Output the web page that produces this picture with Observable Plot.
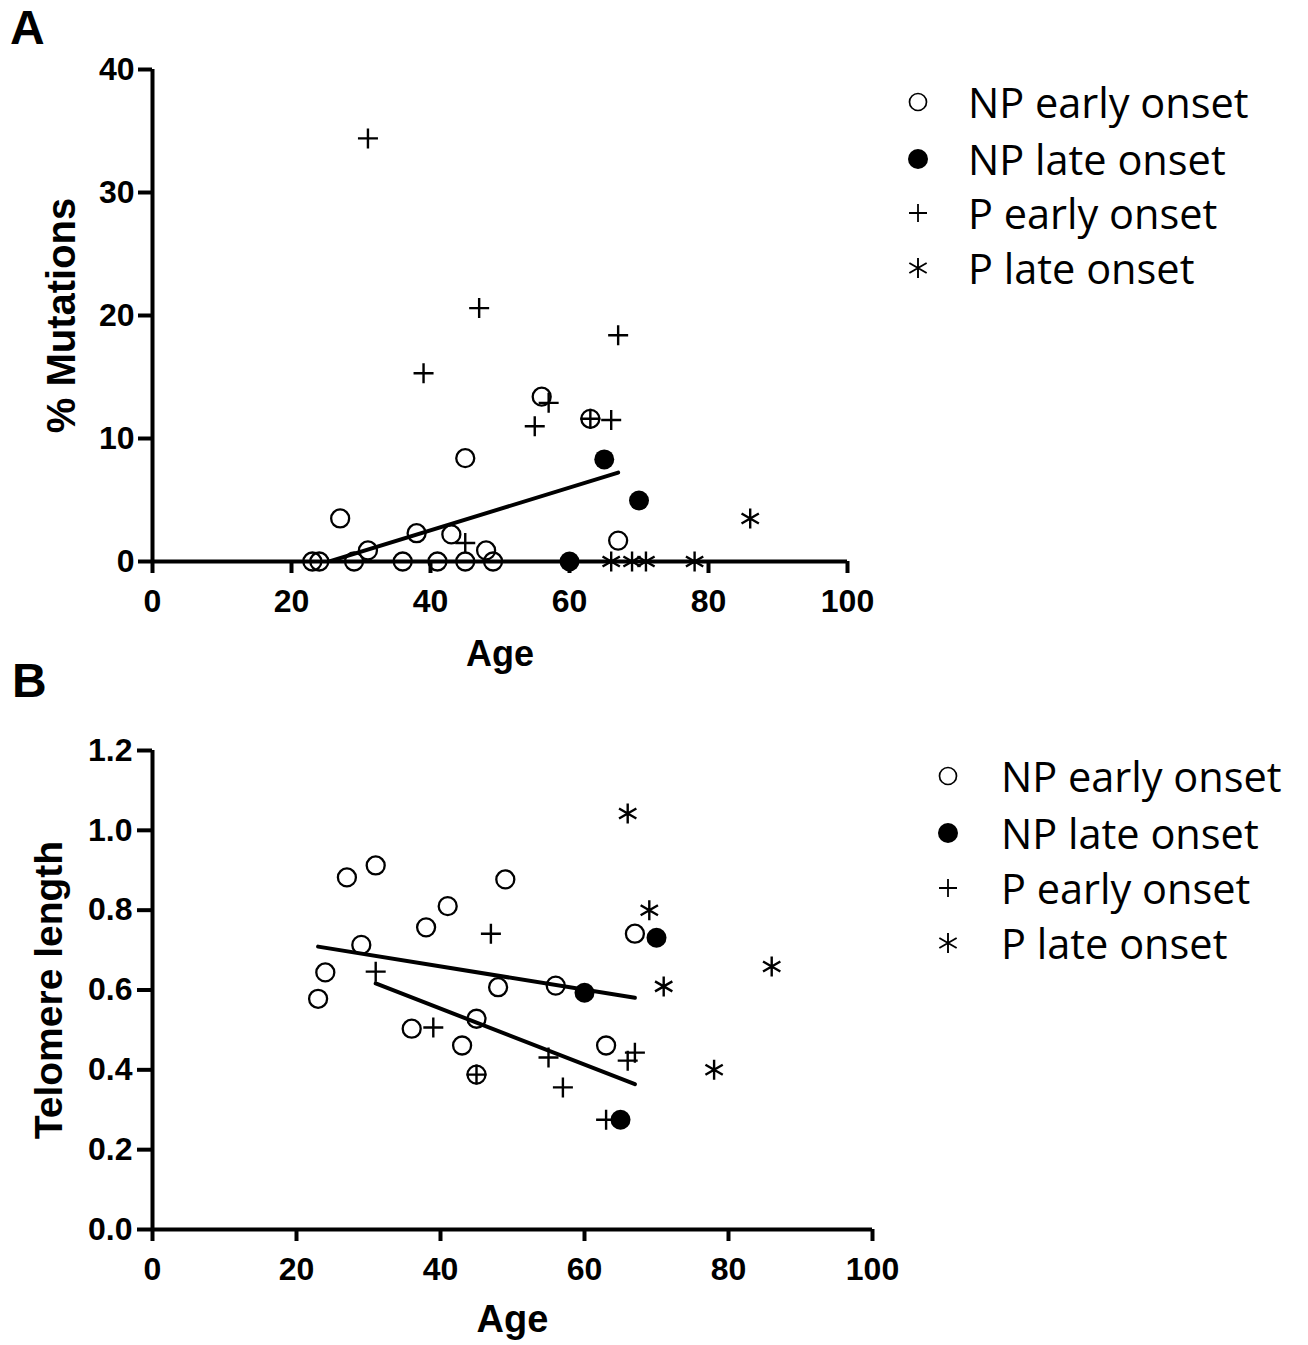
<!DOCTYPE html>
<html><head><meta charset="utf-8">
<script src="https://cdn.jsdelivr.net/npm/d3@7"></script>
<script src="https://cdn.jsdelivr.net/npm/@observablehq/plot@0.6"></script>
<style>
body{margin:0;background:#fff;}
#page{position:relative;width:1308px;height:1345px;overflow:hidden;background:#fff;font-family:"Liberation Sans",Arial,sans-serif;}
.letter{position:absolute;font-weight:bold;font-size:48px;line-height:1;}
.plotbox{position:absolute;left:0;}
.legrow{position:absolute;display:flex;align-items:center;height:50px;white-space:nowrap;font-family:"Open Sans","Noto Sans",sans-serif;font-size:41.5px;line-height:50px;color:#000;}
</style></head><body><div id="page"></div>
<script>
// ---------- data ----------
const groupNames = ["NP early onset", "NP late onset", "P early onset", "P late onset"];

// NP early onset
const ageNPEarly = [23, 24, 27, 29, 31, 36, 38, 41, 43, 45, 45, 48, 49, 56, 63, 67];
const mutNPEarly = [0, 0, 3.5, 0, 0.9, 0, 2.3, 0, 2.2, 8.4, 0, 0.9, 0, 13.4, 11.6, 1.7];
const telNPEarly = [0.578, 0.644, 0.882, 0.713, 0.912, 0.503, 0.757, 0.81, 0.461, 0.528, 0.388, 0.607, 0.877, 0.611, 0.461, 0.741];

// NP late onset
const ageNPLate = [60, 65, 70];
const mutNPLate = [0, 8.3, 4.96];
const telNPLate = [0.593, 0.275, 0.731];

// P early onset
const agePEarly = [31, 39, 45, 47, 55, 57, 63, 66, 67];
const mutPEarly = [34.4, 15.3, 1.5, 20.6, 11.0, 12.9, 11.6, 11.5, 18.4];
const telPEarly = [0.646, 0.506, 0.388, 0.741, 0.431, 0.356, 0.275, 0.423, 0.443];

// P late onset
const agePLate = [66, 69, 71, 78, 86];
const mutPLate = [0, 0, 0, 0, 3.5];
const telPLate = [1.042, 0.80, 0.609, 0.40, 0.659];

// axis ticks
const ageTicks = [0, 20, 40, 60, 80, 100];
const mutTicks = [0, 10, 20, 30, 40];
const telTicks = [0, 0.2, 0.4, 0.6, 0.8, 1.0, 1.2];

// ---------- helpers ----------
const rows = (ages, vals) => ages.map((a, i) => ({age: a, v: vals[i]}));

const plusSym = {draw(c, size) { const r = Math.sqrt(size / Math.PI); c.moveTo(-r, 0); c.lineTo(r, 0); c.moveTo(0, -r); c.lineTo(0, r); }};
const asteriskSym = {draw(c, size) {
  const r = Math.sqrt(size / Math.PI), u = r * Math.cos(Math.PI / 6), t = r * Math.sin(Math.PI / 6);
  c.moveTo(0, -r); c.lineTo(0, r);
  c.moveTo(-u, -t); c.lineTo(u, t);
  c.moveTo(-u, t); c.lineTo(u, -t);
}};

const font = '"Liberation Sans", Arial, Helvetica, sans-serif';

function panel({npE, npL, pE, pL, yDomain, yTicks, yFormat, yLabel, height, marginTop, marginBottom, marginRight, yLabelDx, xLabelDy, xLabelSize, yLabelSize, yTickSize, yTickPad, fits}) {
  const marks = [
    Plot.axisX({ticks: ageTicks, tickSize: 12, tickPadding: 16, strokeWidth: 4, label: null, fontSize: 32, fontWeight: "bold"}),
    Plot.axisY({ticks: yTicks, tickFormat: yFormat, tickSize: yTickSize, tickPadding: yTickPad, strokeWidth: 4, label: null, fontSize: 32, fontWeight: "bold"}),
    Plot.ruleY([yDomain[0]], {stroke: "black", strokeWidth: 4}),
    Plot.ruleX([0], {stroke: "black", strokeWidth: 4}),
    ...fits.map(d => Plot.linearRegressionY(d, {x: "age", y: "v", ci: 0, stroke: "black", strokeWidth: 4, clip: true})),
    Plot.dot(npE, {x: "age", y: "v", r: 9, fill: "none", stroke: "black", strokeWidth: 2.3}),
    Plot.dot(npL, {x: "age", y: "v", r: 10, fill: "black", stroke: "none"}),
    Plot.dot(pE, {x: "age", y: "v", r: 10, symbol: plusSym, fill: "none", stroke: "black", strokeWidth: 2.4}),
    Plot.dot(pL, {x: "age", y: "v", r: 10, symbol: asteriskSym, fill: "none", stroke: "black", strokeWidth: 2.4}),
    Plot.text(["Age"], {text: d => d, frameAnchor: "bottom", textAnchor: "middle", lineAnchor: "middle", dy: xLabelDy, fontSize: xLabelSize, fontWeight: "bold"}),
    Plot.text([yLabel], {text: d => d, frameAnchor: "left", textAnchor: "middle", lineAnchor: "middle", dx: yLabelDx, rotate: -90, fontSize: yLabelSize, fontWeight: "bold"})
  ];
  return Plot.plot({
    width: 900, height, marginLeft: 152, marginRight, marginTop, marginBottom,
    x: {domain: [0, 100]},
    y: {domain: yDomain},
    style: {fontFamily: font, fontSize: "32px", fontWeight: "bold", color: "black", background: "transparent", overflow: "visible"},
    marks
  });
}

const page = document.getElementById("page");

// Panel A
const A = {npE: rows(ageNPEarly, mutNPEarly), npL: rows(ageNPLate, mutNPLate), pE: rows(agePEarly, mutPEarly), pL: rows(agePLate, mutPLate)};
const svgA = panel({...A, yDomain: [0, 40], yTicks: mutTicks, yFormat: d3.format("d"), yLabel: "% Mutations",
  height: 700, marginTop: 69, marginBottom: 139, marginRight: 53, yLabelDx: -90, xLabelDy: 93, xLabelSize: 36, yLabelSize: 40,
  yTickSize: 14, yTickPad: 4, fits: [A.npE]});
const boxA = document.createElement("div"); boxA.className = "plotbox"; boxA.style.top = "0px"; boxA.appendChild(svgA); page.appendChild(boxA);

// Panel B
const B = {npE: rows(ageNPEarly, telNPEarly), npL: rows(ageNPLate, telNPLate), pE: rows(agePEarly, telPEarly), pL: rows(agePLate, telPLate)};
const svgB = panel({...B, yDomain: [0, 1.2], yTicks: telTicks, yFormat: d3.format(".1f"), yLabel: "Telomere length",
  height: 665, marginTop: 70, marginBottom: 116, marginRight: 28, yLabelDx: -103, xLabelDy: 90, xLabelSize: 38, yLabelSize: 39,
  yTickSize: 15, yTickPad: 5, fits: [B.npE, B.pE]});
const boxB = document.createElement("div"); boxB.className = "plotbox"; boxB.style.top = "680px"; boxB.appendChild(svgB); page.appendChild(boxB);

// Panel letters
[["A", 10, 4], ["B", 12, 657]].forEach(([t, x, y]) => {
  const d = document.createElement("div"); d.className = "letter"; d.textContent = t;
  d.style.left = x + "px"; d.style.top = y + "px"; page.appendChild(d);
});

// Legends
const legendSyms = [
  {type: d3.symbolCircle, r: 8.5, fill: "none", stroke: "black", sw: 1.7},
  {type: d3.symbolCircle, r: 10, fill: "black", stroke: "none", sw: 0},
  {type: plusSym, r: 9, fill: "none", stroke: "black", sw: 1.8},
  {type: asteriskSym, r: 10, fill: "none", stroke: "black", sw: 1.9}
];
function legend(symX, textX, ys) {
  groupNames.forEach((name, i) => {
    const s = legendSyms[i];
    const row = document.createElement("div"); row.className = "legrow";
    row.style.left = (symX - 15) + "px"; row.style.top = (ys[i] - 27) + "px";
    const svg = d3.create("svg").attr("width", 30).attr("height", 30).style("overflow", "visible").style("flex", "none");
    svg.append("path").attr("transform", "translate(15,15)")
      .attr("d", d3.symbol(s.type, Math.PI * s.r * s.r)())
      .attr("fill", s.fill).attr("stroke", s.stroke).attr("stroke-width", s.sw);
    row.appendChild(svg.node());
    const span = document.createElement("span"); span.textContent = name;
    span.style.marginLeft = (textX - symX - 15) + "px";
    row.appendChild(span);
    page.appendChild(row);
  });
}
legend(918, 968, [104, 161, 215, 270]);
legend(948, 1001, [778, 835, 890, 945]);
</script>
</body></html>
